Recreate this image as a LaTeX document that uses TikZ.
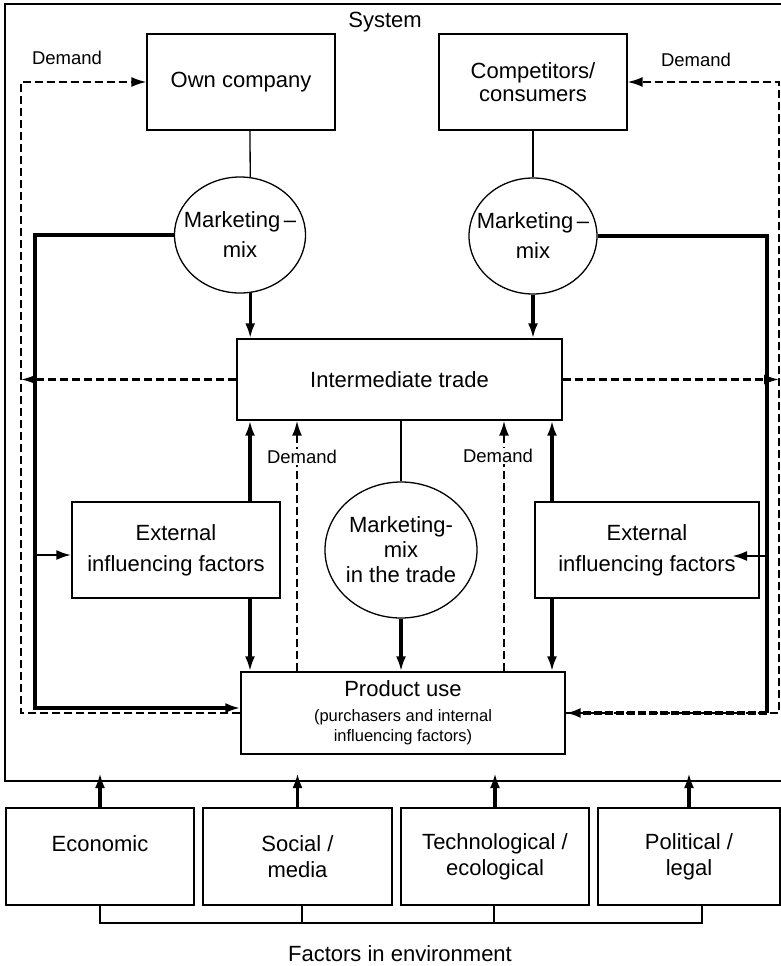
\documentclass[tikz,border=0pt]{standalone}
\usepackage{fontspec}
\setmainfont{Liberation Sans}
\usetikzlibrary{shapes.geometric,arrows.meta}
\newcommand{\smalltext}{\fontsize{16.5}{19}\selectfont}

\begin{document}
\begin{tikzpicture}[x=1pt,y=-1pt,
  font=\fontsize{22}{26}\selectfont,
  box/.style={draw,line width=1.3pt,inner sep=0pt,align=center},
  mix/.style={ellipse,draw,line width=1.3pt,inner sep=-12pt,align=center,fill=white},
  link/.style={line width=1.3pt},
  flow/.style={line width=3.4pt,-{Latex[length=15pt,width=10pt]}},
  demand/.style={line width=2.2pt,dash pattern=on 8pt off 4pt,-{Latex[length=15pt,width=10pt]}},
  lbl/.style={font=\fontsize{18.5}{22}\selectfont,fill=white,inner sep=1pt}]
\useasboundingbox (0,0) rectangle (781,966);

% system frame
\node[draw,line width=1.6pt,minimum width=779pt,minimum height=777pt,inner sep=0pt] (sys) at (394.5,392.5) {};
\node (syslbl) at (385,22) {System};

% actors
\node[box,minimum width=188pt,minimum height=96pt] (own) at (241,82) {Own company};
\node[box,minimum width=188pt,minimum height=96pt] (comp) at (533,82) {Competitors/\\[-3pt]consumers};
\node[mix,minimum width=131pt,minimum height=116pt] (mmL) at (240,235) {Marketing\,--\\[4pt]mix};
\node[mix,minimum width=128pt,minimum height=116pt] (mmR) at (533,236) {Marketing\,--\\[4pt]mix};

% trade level
\node[box,minimum width=325pt,minimum height=81pt] (trade) at (399.5,379.5) {Intermediate trade};
\node[box,minimum width=208pt,minimum height=96pt] (extL) at (176,550) {External\\[5pt]influencing factors};
\node[box,minimum width=224pt,minimum height=96pt] (extR) at (647,550) {External\\[5pt]influencing factors};
\node[mix,minimum width=152pt,minimum height=136pt] (mmM) at (401,550) {Marketing-\\[-1pt]mix\\[-1pt]in the trade};
\node[box,minimum width=324pt,minimum height=82pt] (product) at (403,713)
  {Product use\\[-1pt]\smalltext(purchasers and internal\\[-6pt]\smalltext influencing factors)};

% environment
\node[box,minimum width=188pt,minimum height=97pt] (econ) at (100,856.5) {Economic\\\phantom{E}};
\node[box,minimum width=189pt,minimum height=97pt] (soc) at (297.5,856.5) {Social /\\media};
\node[box,minimum width=188pt,minimum height=97pt] (tech) at (495,856.5) {Technological /\\ecological};
\node[box,minimum width=182pt,minimum height=97pt] (pol) at (689,856.5) {Political /\\legal};
\node (envlbl) at (400,954) {Factors in environment};

% helper points
\coordinate (xl) at (250,0);
\coordinate (xr) at (552,0);
\coordinate (xdl) at (297,0);
\coordinate (xdr) at (504,0);
\coordinate (lbend) at (35,708);
\coordinate (lmid) at (35,555);
\coordinate (rbend) at (767,713);
\coordinate (rmid) at (767,556);
\coordinate (rtip) at (732,556);
\coordinate (ldem) at (21,713);
\coordinate (rdem) at (779,713);
\coordinate (envtop) at (0,773);
\coordinate (bs) at (302,923);
\coordinate (bt) at (494,923);
\coordinate (br) at (702,923);

% company -> marketing mix -> trade
\draw[link] (own.south -| xl) -- (mmL.80);
\draw[link] (comp) -- (mmR);
\draw[flow] (mmL.280) -- (mmL.280 |- trade.north);
\draw[flow] (mmR) -- (mmR |- trade.north);

% trade <-> product use
\draw[link] (trade.south -| mmM) -- (mmM);
\draw[flow] (mmM) -- (mmM |- product.north);
\draw[flow] (extL.north -| xl) -- (trade.south -| xl);
\draw[flow] (extL.south -| xl) -- (product.north -| xl);
\draw[flow] (extR.north -| xr) -- (trade.south -| xr);
\draw[flow] (extR.south -| xr) -- (product.north -| xr);
\draw[demand] (product.north -| xdl) -- (trade.south -| xdl);
\draw[demand] (product.north -| xdr) -- (trade.south -| xdr);
\node[lbl] (dml) at (302,457) {Demand};
\node[lbl] (dmr) at (498,456) {Demand};

% direct channels
\draw[flow] (mmL.west) -| (lbend) -- ([yshift=5pt]product.west);
\draw[flow,line width=2.6pt] (lmid) -- (lmid -| extL.west);
\draw[flow,-] (mmR.east) -| (rbend);
\draw[flow,line width=2.6pt] (rmid) -- (rtip);

% demand feedback
\draw[demand,line width=1.7pt] (product.west) -- (ldem) |- (own.west);
\draw[demand,line width=1.7pt] (product.east) -- (rdem) |- (comp.east);
\draw[demand] (trade.west) -- (trade.west -| ldem);
\draw[demand] (trade.east) -- (trade.east -| rdem);
\draw[flow,dash pattern=on 8pt off 3pt] (rbend) -- (product.east);
\node[lbl] (dtl) at (67,58) {Demand};
\node[lbl] (dtr) at (696,60) {Demand};

% environment factors
\draw[flow] (econ.north) -- (econ.north |- envtop);
\draw[flow] (soc.north) -- (soc.north |- envtop);
\draw[flow] (tech.north) -- (tech.north |- envtop);
\draw[flow] (pol.north) -- (pol.north |- envtop);
\draw[link] (econ.south) |- (br) -- (br |- pol.south);
\draw[link] (bs) -- (bs |- soc.south);
\draw[link] (bt) -- (bt |- tech.south);
\end{tikzpicture}
\end{document}
